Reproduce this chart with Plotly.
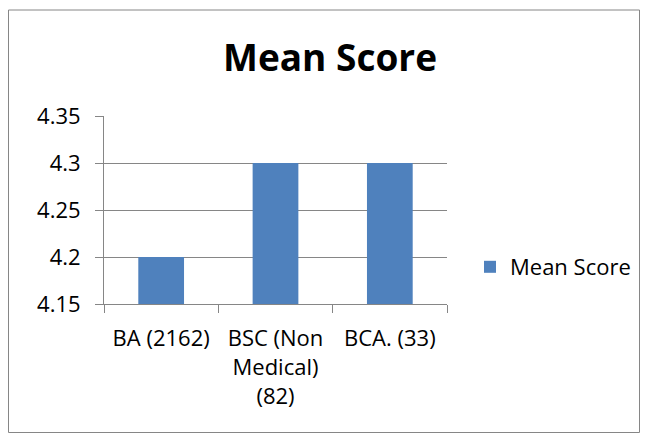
import plotly.graph_objects as go

# Data
categories = ["BA (2162)", "BSC (Non<br>Medical)<br>(82)", "BCA. (33)"]
mean_score = [4.2, 4.3, 4.3]

# page body adds an 8px margin on every side, keep the figure inside the window
# (all positions below are in figure pixels = window pixels - 8)
W, H = 632, 425

fig = go.Figure()
fig.add_trace(go.Bar(x=categories, y=mean_score, name="Mean Score",
                     marker=dict(color="#4F81BD", line=dict(width=0)),
                     width=0.4))

fig.update_layout(
    width=W, height=H,
    margin=dict(l=0, r=0, t=0, b=0),
    paper_bgcolor="white", plot_bgcolor="white",
    font=dict(family="Open Sans, sans-serif", size=22, color="black"),
    title=dict(text="<b>Mean Score</b>", x=322 / W, xanchor="center",
               y=1 - 50 / H, yanchor="middle", font=dict(size=37)),
    xaxis=dict(domain=[96 / W, 439 / W], tickson="boundaries", automargin=False,
               showline=True, linecolor="#868686", linewidth=1,
               ticks="outside", ticklen=8, tickcolor="#868686",
               ticklabelstandoff=15, showgrid=False),
    yaxis=dict(domain=[1 - 296 / H, 1 - 108 / H], range=[4.15, 4.35],
               dtick=0.05, automargin=False,
               showline=True, linecolor="#868686", linewidth=1,
               ticks="outside", ticklen=8, tickcolor="#868686",
               ticklabelstandoff=10,
               showgrid=True, gridcolor="#868686", gridwidth=1),
    showlegend=True,
    legend=dict(x=462 / W, y=1 - 259 / H, xanchor="left", yanchor="middle",
                font=dict(size=22)),
    shapes=[dict(type="rect", xref="paper", yref="paper",
                 x0=0.5 / W, x1=(W - 0.5) / W, y0=0.5 / H, y1=1 - 2 / H,
                 line=dict(color="#868686", width=1))],
)

fig.write_html("out.html")
